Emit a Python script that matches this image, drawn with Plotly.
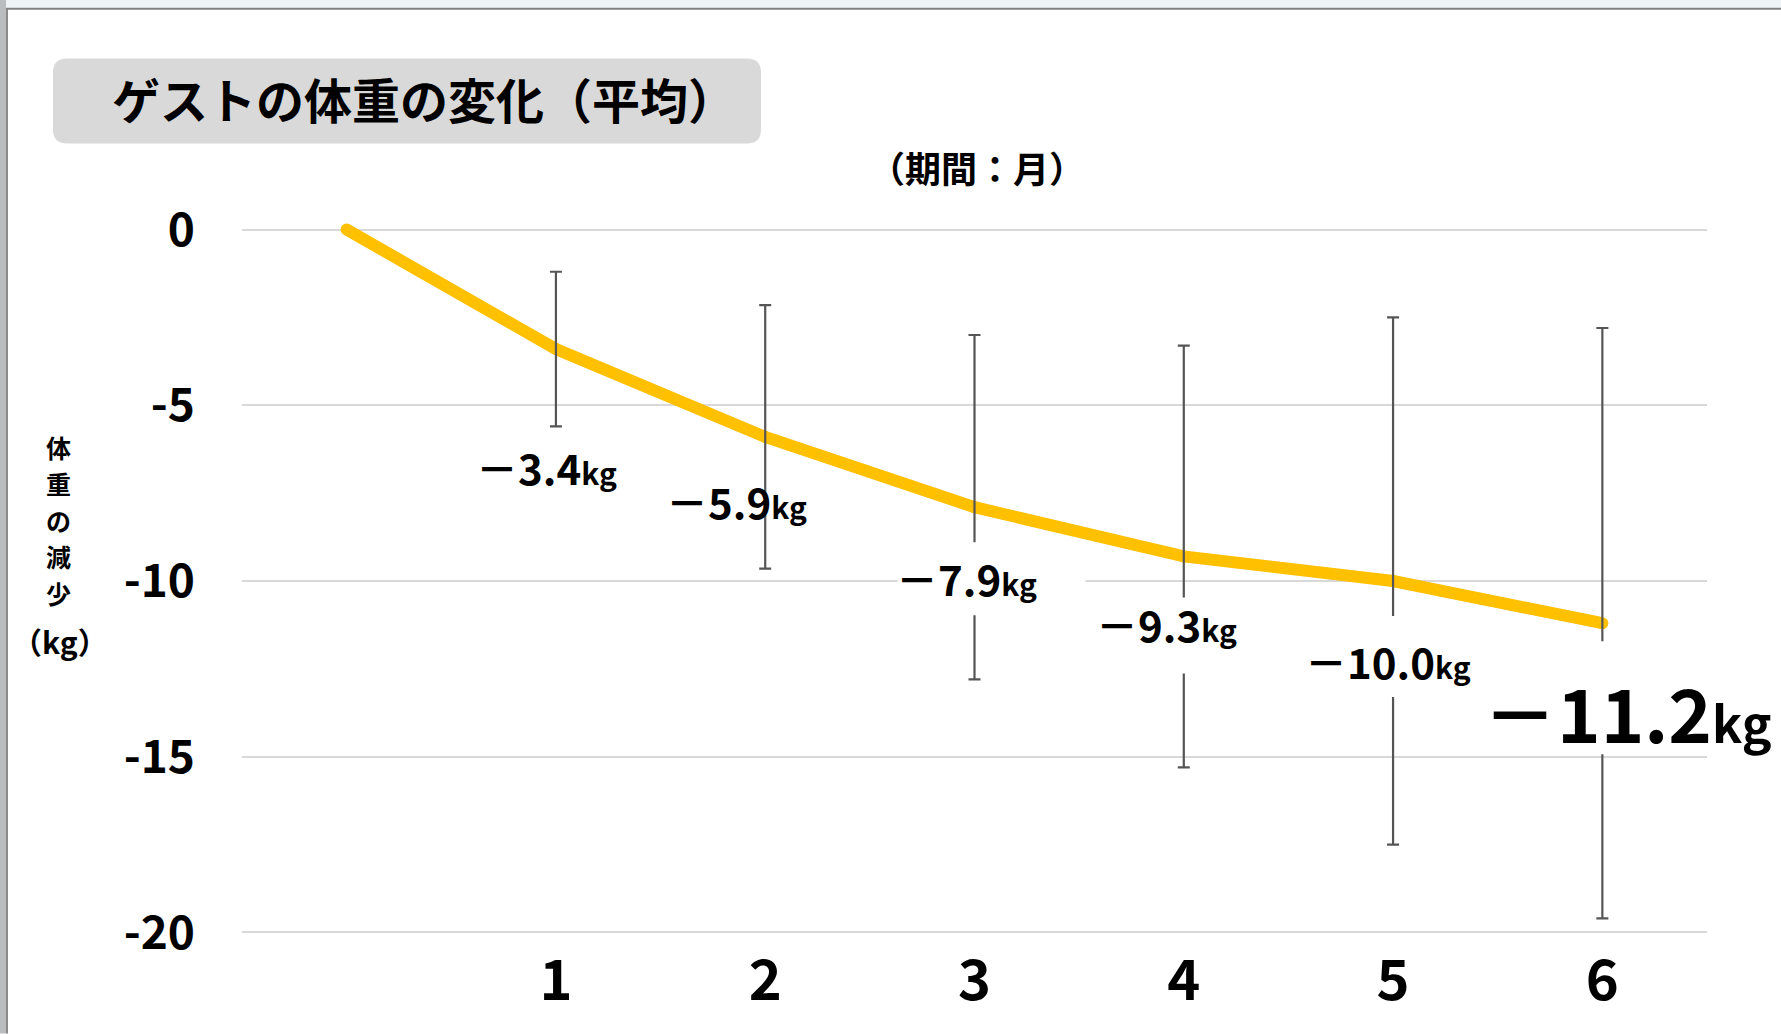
import plotly.graph_objects as go

# ---- data -------------------------------------------------------------
months = [0, 1, 2, 3, 4, 5, 6]
mean_change = [0.0, -3.4, -5.9, -7.9, -9.3, -10.0, -11.2]      # kg, average
spread = [2.2, 3.75, 4.9, 6.0, 7.5, 8.4]                         # kg, months 1-6

x_tick_vals = [1, 2, 3, 4, 5, 6]
x_tick_text = ["1", "2", "3", "4", "5", "6"]
y_tick_vals = [0, -5, -10, -15, -20]
y_tick_text = ["0", "-5", "-10", "-15", "-20"]

title_text = "ゲストの体重の変化（平均）"
period_text = "（期間：月）"
y_title_stack = ["体", "重", "の", "減", "少"]
y_title_unit = "（kg）"

# ---- page geometry ----------------------------------------------------
W, H = 1781, 1034
ML, MR, MT, MB = 242, 74, 212.4, 90.5
PW = W - ML - MR
PH = H - MT - MB
FONT = "Noto Sans CJK JP"
LINE_COLOR = "#FFC000"
BAR_COLOR = "#555555"
GRID_COLOR = "#D9D9D9"


def fx(p):
    """page pixel x -> paper x"""
    return (p - ML) / PW


def fy(p):
    """page pixel y (from top) -> paper y"""
    return (H - MB - p) / PH


# per-label styling for months 1..6: text shift, digit size, unit size,
# white backing box (pixel offsets from the point: x0, x1, y0, y1)
label_style = [
    dict(dx=-9, dy=-117, num=42, unit=30, box=None),
    dict(dx=-29, dy=-64, num=42, unit=30, box=None),
    dict(dx=-8, dy=-70, num=42, unit=30, box=(-77, 111, -108, -35)),
    dict(dx=-17, dy=-67, num=42, unit=30, box=(-88, 56, -117, -41)),
    dict(dx=-5, dy=-79, num=42, unit=30, box=(-88, 79, -116, -35)),
    dict(dx=25, dy=-87, num=74, unit=50, box=(-114, 168, -131, -18)),
]

fig = go.Figure()

# average weight change line
fig.add_trace(go.Scatter(
    x=months, y=mean_change, mode="lines+markers",
    line=dict(color=LINE_COLOR, width=12),
    marker=dict(color=LINE_COLOR, size=12, line=dict(width=0)),
    cliponaxis=False, hoverinfo="skip", showlegend=False,
))

# spread of the guests around the average (drawn over the line)
fig.add_trace(go.Scatter(
    x=months[1:], y=mean_change[1:], mode="markers",
    marker=dict(size=1, opacity=0),
    error_y=dict(type="data", array=spread, symmetric=True,
                 color=BAR_COLOR, thickness=2.2, width=6),
    hoverinfo="skip", showlegend=False,
))

shapes = []
annotations = []

# outer frame of the slide
shapes += [
    dict(type="rect", xref="paper", yref="paper", layer="below",
         x0=fx(0), x1=fx(W), y0=fy(0), y1=fy(8),
         fillcolor="#EEF3F6", line=dict(width=0)),
    dict(type="rect", xref="paper", yref="paper", layer="below",
         x0=fx(0), x1=fx(6), y0=fy(0), y1=fy(H),
         fillcolor="#B9BDC0", line=dict(width=0)),
    dict(type="line", xref="paper", yref="paper", layer="below",
         x0=fx(6), x1=fx(W), y0=fy(9), y1=fy(9),
         line=dict(color="#808080", width=2)),
    dict(type="line", xref="paper", yref="paper", layer="below",
         x0=fx(7), x1=fx(7), y0=fy(9), y1=fy(H),
         line=dict(color="#8A8A8A", width=2)),
]


# rounded grey title plate
def rounded_path(x0, y0, x1, y1, r):
    pts = [
        ("M", fx(x0 + r), fy(y0)),
        ("L", fx(x1 - r), fy(y0)),
        ("Q", fx(x1), fy(y0), fx(x1), fy(y0 + r)),
        ("L", fx(x1), fy(y1 - r)),
        ("Q", fx(x1), fy(y1), fx(x1 - r), fy(y1)),
        ("L", fx(x0 + r), fy(y1)),
        ("Q", fx(x0), fy(y1), fx(x0), fy(y1 - r)),
        ("L", fx(x0), fy(y0 + r)),
        ("Q", fx(x0), fy(y0), fx(x0 + r), fy(y0)),
    ]
    out = []
    for p in pts:
        out.append(p[0] + " " + " ".join(f"{v:.6f}" for v in p[1:]))
    return " ".join(out) + " Z"


shapes.append(dict(type="path", xref="paper", yref="paper", layer="below",
                   path=rounded_path(53, 59, 761, 144, 14),
                   fillcolor="#D9D9D9", line=dict(width=0)))

annotations.append(dict(
    text=title_text, xref="paper", yref="paper", x=fx(424), y=fy(98),
    xanchor="center", yanchor="middle", showarrow=False,
    font=dict(family=FONT, size=48, color="#000000", weight=700),
))

annotations.append(dict(
    text=period_text, xref="paper", yref="paper", x=fx(977), y=fy(167),
    xanchor="center", yanchor="middle", showarrow=False,
    font=dict(family=FONT, size=36, color="#000000", weight=700),
))

# stacked vertical axis title: the base size sets the line pitch, each
# glyph is drawn slightly smaller so the lines do not collide
stack_txt = "<br>".join(
    f"<span style='font-size:25px'>{ch}</span>" for ch in y_title_stack)
annotations.append(dict(
    text=stack_txt, xref="paper", yref="paper", x=fx(58), y=fy(520),
    xanchor="center", yanchor="middle", showarrow=False,
    font=dict(family=FONT, size=28, color="#000000", weight=700),
))
annotations.append(dict(
    text=y_title_unit, xref="paper", yref="paper", x=fx(60), y=fy(641),
    xanchor="center", yanchor="middle", showarrow=False,
    font=dict(family=FONT, size=30, color="#000000", weight=700),
))

# value labels with white backing where they sit on bars / grid
for m, v, st in zip(months[1:], mean_change[1:], label_style):
    if st["box"] is not None:
        bx0, bx1, by0, by1 = st["box"]
        shapes.append(dict(
            type="rect", xref="x", yref="y", layer="above",
            xsizemode="pixel", ysizemode="pixel", xanchor=m, yanchor=v,
            x0=bx0, x1=bx1, y0=by0, y1=by1,
            fillcolor="#FFFFFF", line=dict(width=0),
        ))
    txt = (f"－{abs(v):.1f}"
           f"<span style='font-size:{st['unit']}px'>kg</span>")
    annotations.append(dict(
        text=txt, x=m, y=v, xref="x", yref="y",
        xshift=st["dx"], yshift=st["dy"],
        xanchor="center", yanchor="middle", showarrow=False,
        font=dict(family=FONT, size=st["num"], color="#000000", weight=700),
    ))

fig.update_layout(
    width=W, height=H,
    margin=dict(l=ML, r=MR, t=MT, b=MB, pad=0),
    paper_bgcolor="#FFFFFF", plot_bgcolor="#FFFFFF",
    font=dict(family=FONT, color="#000000", weight=700),
    shapes=shapes, annotations=annotations,
    showlegend=False,
)

fig.update_xaxes(
    range=[-0.5, 6.5], tickmode="array", tickvals=x_tick_vals,
    ticktext=x_tick_text, showgrid=False, zeroline=False, showline=False,
    ticks="", tickfont=dict(family=FONT, size=56, color="#000000", weight=700),
)
fig.update_yaxes(
    range=[-20.3, 0.5], tickmode="array", tickvals=y_tick_vals,
    ticktext=y_tick_text, showgrid=True, gridcolor=GRID_COLOR, gridwidth=2,
    zeroline=False, showline=False, ticks="", ticklabelstandoff=46,
    tickfont=dict(family=FONT, size=46, color="#000000", weight=700),
)

fig.write_html("out.html")
